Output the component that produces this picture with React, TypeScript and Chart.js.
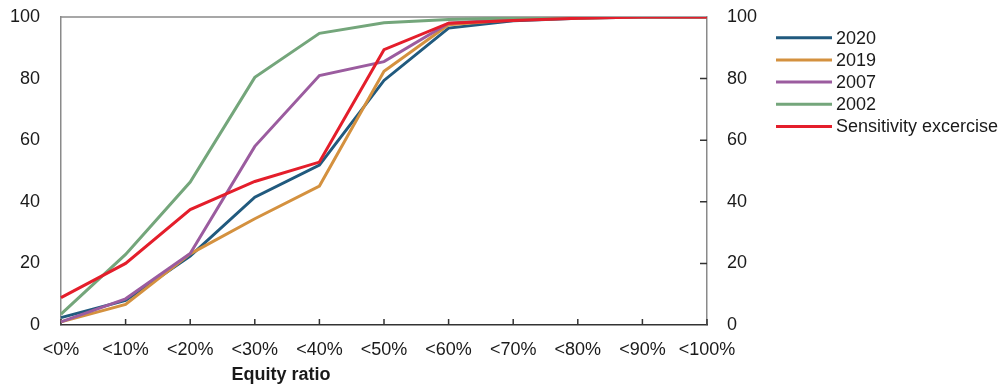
import React, { useEffect, useRef } from "react";
import { Chart, registerables } from "chart.js";

Chart.register(...registerables);

// Cumulative share (%) of firms below each equity-ratio threshold
const categories = ["<0%", "<10%", "<20%", "<30%", "<40%", "<50%", "<60%", "<70%", "<80%", "<90%", "<100%"];
const yTicks = [0, 20, 40, 60, 80, 100];

const values2020 = [2.4, 8, 22.4, 41.5, 51.9, 79.4, 96.4, 98.8, 99.6, 100, 100];
const values2019 = [1, 6.7, 23.1, 34.5, 45.1, 82.4, 97.5, 99.1, 99.7, 100, 100];
const values2007 = [1, 8.5, 23.2, 58, 81, 85.5, 98, 99.3, 99.8, 100, 100];
const values2002 = [3.5, 22.9, 46.4, 80.4, 94.7, 98.1, 99.2, 99.7, 100, 100, 100];
const valuesSensitivity = [8.9, 20, 37.5, 46.6, 52.9, 89.4, 98, 98.9, 99.6, 100, 100];

const seriesNames = ["2020", "2019", "2007", "2002", "Sensitivity excercise"];
const seriesValues = [values2020, values2019, values2007, values2002, valuesSensitivity];
const seriesColors = ["#215a7e", "#d4913f", "#9b5c9f", "#74a67b", "#e41e2b"];

const axisTitle = "Equity ratio";

const FONT = '"Liberation Sans", Arial, Helvetica, sans-serif';
const TEXT = "#1a1a1a";
const FRAME_GREY = "#8a8a8a";
const DARK = "#333333";

// Frame top edge and inward tick marks on the bottom and right axes
const framePlugin = {
  id: "frame",
  beforeDatasetsDraw(chart: any) {
    const { ctx, chartArea } = chart;
    const x = chart.scales.x;
    const y2 = chart.scales.y2;
    ctx.save();
    ctx.lineWidth = 1.5;
    ctx.strokeStyle = FRAME_GREY;
    ctx.beginPath();
    ctx.moveTo(chartArea.left, chartArea.top);
    ctx.lineTo(chartArea.right, chartArea.top);
    ctx.stroke();

    ctx.strokeStyle = DARK;
    ctx.beginPath();
    x.ticks.forEach((_t: any, i: number) => {
      const px = x.getPixelForTick(i);
      ctx.moveTo(px, chartArea.bottom);
      ctx.lineTo(px, chartArea.bottom - 6);
    });
    y2.ticks.forEach((t: any) => {
      if (t.value === 0 || t.value === 100) return;
      const py = y2.getPixelForValue(t.value);
      ctx.moveTo(chartArea.right, py);
      ctx.lineTo(chartArea.right - 7, py);
    });
    ctx.stroke();
    ctx.restore();
  },
  afterDraw(chart: any) {
    const { ctx } = chart;
    ctx.save();
    // axis title
    ctx.font = `bold 18px ${FONT}`;
    ctx.fillStyle = TEXT;
    ctx.textAlign = "center";
    ctx.textBaseline = "middle";
    ctx.fillText(axisTitle, 281, 375);

    // legend
    ctx.font = `18px ${FONT}`;
    ctx.textAlign = "left";
    chart.data.datasets.forEach((ds: any, i: number) => {
      const cy = 37.7 + i * 22.2;
      ctx.strokeStyle = ds.borderColor;
      ctx.lineWidth = 3;
      ctx.beginPath();
      ctx.moveTo(776, cy);
      ctx.lineTo(832, cy);
      ctx.stroke();
      ctx.fillStyle = TEXT;
      ctx.fillText(ds.label, 836, cy + 1);
    });
    ctx.restore();
  },
};

export default function App() {
  const ref = useRef<HTMLCanvasElement>(null);

  useEffect(() => {
    if (!ref.current) return;
    const setTicks = (s: any) => {
      s.ticks = yTicks.map((v) => ({ value: v }));
    };
    const fixY = (width: number) => (s: any) => {
      s.width = width;
      s.paddingTop = 0;
      s.paddingBottom = 0;
    };
    const chart = new Chart(ref.current, {
      type: "line",
      data: {
        labels: categories,
        datasets: seriesNames.map((name, i) => ({
          label: name,
          data: seriesValues[i],
          borderColor: seriesColors[i],
          backgroundColor: seriesColors[i],
          borderWidth: 3,
          pointRadius: 0,
          pointHoverRadius: 0,
          tension: 0,
          fill: false,
          order: seriesNames.length - 1 - i,
        })),
      },
      options: {
        responsive: false,
        animation: false,
        devicePixelRatio: 1,
        layout: { padding: { top: 17, left: 0, right: 0, bottom: 0 } },
        plugins: {
          legend: { display: false },
          tooltip: { enabled: false },
          title: { display: false },
        },
        scales: {
          x: {
            type: "category",
            offset: false,
            grid: { display: false, drawTicks: false },
            border: { display: true, color: DARK, width: 1.5 },
            ticks: {
              padding: 14,
              color: TEXT,
              font: { size: 18, family: FONT },
              maxRotation: 0,
              autoSkip: false,
            },
            afterFit: (s: any) => {
              s.height = 60;
              s.paddingLeft = 0;
              s.paddingRight = 0;
            },
          },
          y: {
            position: "left",
            min: 0,
            max: 100,
            grid: { display: false, drawTicks: false },
            border: { display: true, color: FRAME_GREY, width: 1.5 },
            ticks: { padding: 21, color: TEXT, font: { size: 18, family: FONT } },
            afterBuildTicks: setTicks,
            afterFit: fixY(61),
          },
          y2: {
            position: "right",
            min: 0,
            max: 100,
            grid: { display: false, drawTicks: false },
            border: { display: true, color: FRAME_GREY, width: 1.5 },
            ticks: { padding: 20, color: TEXT, font: { size: 18, family: FONT } },
            afterBuildTicks: setTicks,
            afterFit: fixY(295),
          },
        },
      },
      plugins: [framePlugin],
    });
    return () => chart.destroy();
  }, []);

  return (
    <div style={{ position: "absolute", left: 0, top: 0, width: 1002, height: 385, background: "#fff" }}>
      <canvas ref={ref} width={1002} height={385} style={{ display: "block" }} />
    </div>
  );
}
